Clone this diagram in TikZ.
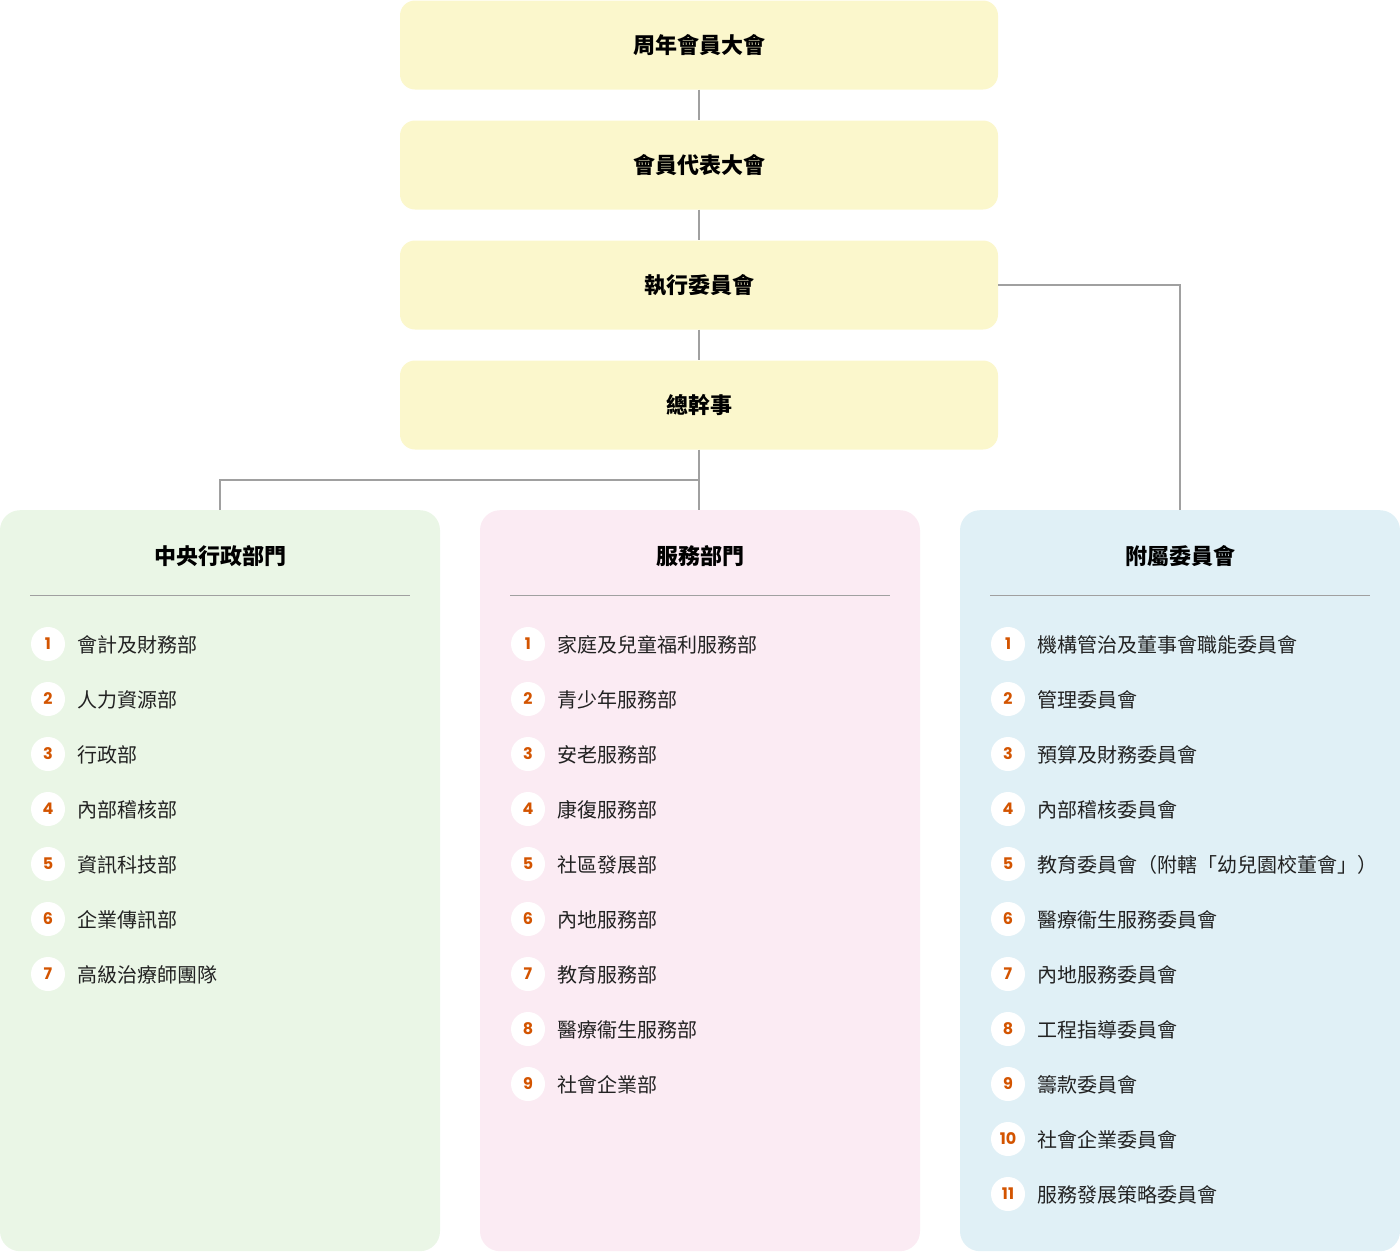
\documentclass[tikz,border=0pt]{standalone}
\usepackage{fontspec}
\setmainfont{Noto Sans CJK TC}
\newfontfamily\numfont{Poppins}
\definecolor{topyellow}{HTML}{FBF7CC}
\definecolor{greenbg}{HTML}{EAF6E6}
\definecolor{pinkbg}{HTML}{FBEBF3}
\definecolor{bluebg}{HTML}{E0F0F6}
\definecolor{linegray}{HTML}{A0A0A0}
\definecolor{numorange}{HTML}{D35400}
\definecolor{textdark}{HTML}{222222}
\tikzset{
    topbox/.style={rectangle, rounded corners=15pt, fill=topyellow, minimum width=598pt, minimum height=89pt, inner sep=0pt, text=black, font=\bfseries\fontsize{22}{26}\selectfont},
    panel/.style={rectangle, rounded corners=20pt, minimum width=440pt, minimum height=741pt, anchor=north, inner sep=0pt},
    paneltitle/.style={inner sep=0pt, text=black, font=\bfseries\fontsize{22}{26}\selectfont},
    rule/.style={draw=linegray, line width=0.8pt},
    numdot/.style={circle, fill=white, minimum size=34pt, inner sep=0pt, text=numorange, font=\numfont\bfseries\fontsize{16}{16}\selectfont},
    itemtext/.style={anchor=west, inner sep=0pt, text=textdark, font=\fontsize{20}{23}\selectfont},
    link/.style={draw=linegray, line width=1.6pt}
}
\begin{document}
\begin{tikzpicture}[x=1pt, y=-1pt]
    \useasboundingbox (0,0) rectangle (1400,1251);

    % top of the chart
    \node[topbox] (agm) at (699,45) {周年會員大會};
    \node[topbox] (rep) at (699,165) {會員代表大會};
    \node[topbox] (exec) at (699,285) {執行委員會};
    \node[topbox] (gs) at (699,405) {總幹事};

    % three panels
    \node[panel, fill=greenbg] (central) at (220,510) {};
    \node[panel, fill=pinkbg] (service) at (700,510) {};
    \node[panel, fill=bluebg] (committee) at (1180,510) {};

    \coordinate (split) at (699,480);
    \draw[link] (agm) -- (rep);
    \draw[link] (rep) -- (exec);
    \draw[link] (exec) -- (gs);
    \draw[link] (gs.south) -- (gs.south |- service.north);
    \draw[link] (split) -| (central.north);
    \draw[link] (exec.east) -| (committee.north);

    % panel heads
    \node[paneltitle] (centralhead) at (220,556) {中央行政部門};
    \node[paneltitle] (servicehead) at (700,556) {服務部門};
    \node[paneltitle] (committeehead) at (1180,556) {附屬委員會};
    \foreach \x in {0,480,960}
        \draw[rule] (\x+30,595.5) -- (\x+410,595.5);

    % lists
    \foreach \t [count=\i] in {會計及財務部, 人力資源部, 行政部, 內部稽核部, 資訊科技部, 企業傳訊部, 高級治療師團隊} {
        \node[numdot] (c\i) at (48,589+55*\i) {\i};
        \node[itemtext] (ct\i) at (77,589.5+55*\i) {\t};
    }
    \foreach \t [count=\i] in {家庭及兒童福利服務部, 青少年服務部, 安老服務部, 康復服務部, 社區發展部, 內地服務部, 教育服務部, 醫療衞生服務部, 社會企業部} {
        \node[numdot] (s\i) at (528,589+55*\i) {\i};
        \node[itemtext] (st\i) at (557,589.5+55*\i) {\t};
    }
    \foreach \t [count=\i] in {機構管治及董事會職能委員會, 管理委員會, 預算及財務委員會, 內部稽核委員會, 教育委員會（附轄「幼兒園校董會」）, 醫療衞生服務委員會, 內地服務委員會, 工程指導委員會, 籌款委員會, 社會企業委員會, 服務發展策略委員會} {
        \node[numdot] (m\i) at (1008,589+55*\i) {\i};
        \node[itemtext] (mt\i) at (1037,589.5+55*\i) {\t};
    }
\end{tikzpicture}
\end{document}
